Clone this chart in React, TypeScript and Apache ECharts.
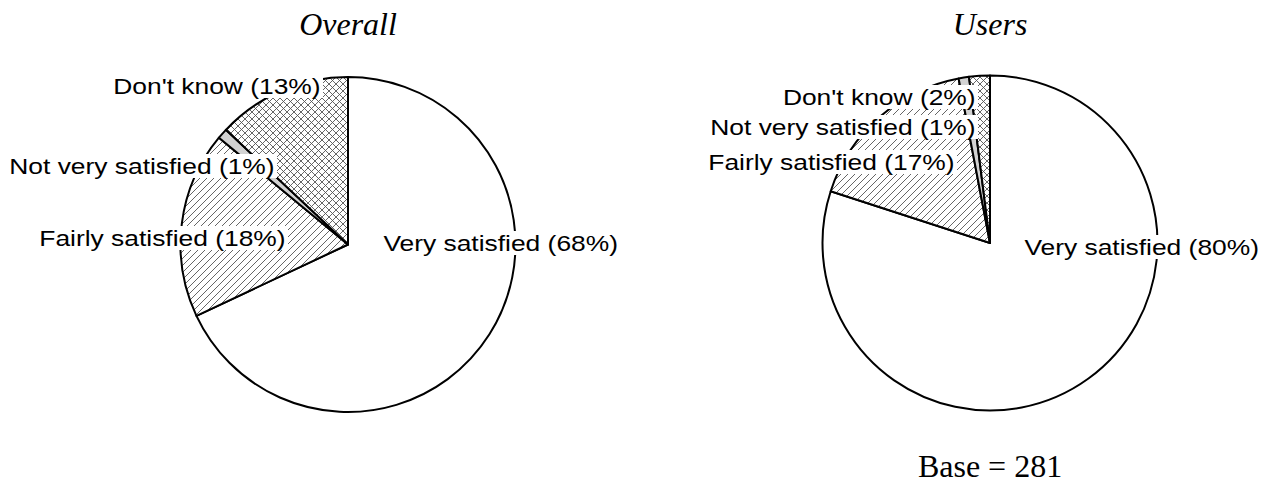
import React, { useEffect, useRef } from "react";
import * as echarts from "echarts";

// Survey answers, shared by both pies
const categories = ["Very satisfied", "Fairly satisfied", "Not very satisfied", "Don't know"];
const overallValues = [68, 18, 1, 13];
const usersValues = [80, 17, 1, 2];
const panelTitles = ["Overall", "Users"];
const baseNote = "Base = 281";

// Geometry of the two pies (pixels)
const PIE_RADIUS = 167.5;
const PIE_CENTERS: [number, number][] = [
  [348, 244.5],
  [990, 243],
];

// Label anchor for each slice: [x, y, align]
type Anchor = [number, number, "left" | "right"];
const overallLabelAnchors: Anchor[] = [
  [381, 243, "left"],
  [288, 238, "right"],
  [277, 166, "right"],
  [323, 86, "right"],
];
const usersLabelAnchors: Anchor[] = [
  [1022, 247, "left"],
  [957, 162, "right"],
  [978, 127, "right"],
  [978, 97, "right"],
];

function makeTile(kind: "hatch" | "cross"): HTMLCanvasElement {
  const s = 7;
  const c = document.createElement("canvas");
  c.width = s;
  c.height = s;
  const g = c.getContext("2d")!;
  g.fillStyle = "#fff";
  g.fillRect(0, 0, s, s);
  g.strokeStyle = "#555";
  g.lineWidth = 0.9;
  for (const k of [-s, 0, s]) {
    g.beginPath();
    g.moveTo(k, s);
    g.lineTo(k + s, 0);
    g.stroke();
    if (kind === "cross") {
      g.beginPath();
      g.moveTo(k, 0);
      g.lineTo(k + s, s);
      g.stroke();
    }
  }
  return c;
}

export default function App() {
  const ref = useRef<HTMLDivElement>(null);

  useEffect(() => {
    if (!ref.current) return;
    const chart = echarts.init(ref.current, undefined, { renderer: "svg" });

    const hatch = { image: makeTile("hatch"), repeat: "repeat", imageWidth: 7, imageHeight: 7 };
    const cross = { image: makeTile("cross"), repeat: "repeat", imageWidth: 7, imageHeight: 7 };
    const fills: any[] = ["#ffffff", hatch, "#d2d2d2", cross];

    const pie = (values: number[], center: [number, number]) => ({
      type: "pie",
      center,
      radius: PIE_RADIUS,
      startAngle: 90,
      clockwise: true,
      silent: true,
      label: { show: false },
      labelLine: { show: false },
      emphasis: { disabled: true },
      itemStyle: { borderColor: "#000", borderWidth: 2 },
      data: categories.map((name, i) => ({
        name,
        value: values[i],
        itemStyle: { color: fills[i] },
      })),
    });

    const sliceLabels = (values: number[], anchors: Anchor[]) =>
      categories.map((name, i) => ({
        type: "text",
        x: anchors[i][0],
        y: anchors[i][1],
        scaleX: 1.2,
        z: 10,
        silent: true,
        style: {
          text: `${name} (${values[i]}%)`,
          fontSize: 22,
          fontFamily: '"Liberation Sans", Arial, sans-serif',
          fill: "#000",
          align: anchors[i][2],
          verticalAlign: "middle",
          backgroundColor: "#fff",
          padding: [1, 2],
        },
      }));

    const titleText = (text: string, x: number) => ({
      type: "text",
      x,
      y: 24,
      silent: true,
      style: {
        text,
        fontSize: 32,
        fontStyle: "italic",
        fontFamily: '"Liberation Serif", "Times New Roman", serif',
        fill: "#000",
        align: "center",
        verticalAlign: "middle",
      },
    });

    chart.setOption({
      animation: false,
      backgroundColor: "#fff",
      series: [pie(overallValues, PIE_CENTERS[0]), pie(usersValues, PIE_CENTERS[1])],
      graphic: [
        titleText(panelTitles[0], PIE_CENTERS[0][0]),
        titleText(panelTitles[1], PIE_CENTERS[1][0]),
        ...sliceLabels(overallValues, overallLabelAnchors),
        ...sliceLabels(usersValues, usersLabelAnchors),
        {
          type: "text",
          x: PIE_CENTERS[1][0],
          y: 466,
          silent: true,
          style: {
            text: baseNote,
            fontSize: 32,
            fontFamily: '"Liberation Serif", "Times New Roman", serif',
            fill: "#000",
            align: "center",
            verticalAlign: "middle",
          },
        },
      ],
    });

    return () => chart.dispose();
  }, []);

  return (
    <div
      ref={ref}
      style={{ position: "fixed", left: 0, top: 0, width: 1267, height: 484 }}
    />
  );
}
